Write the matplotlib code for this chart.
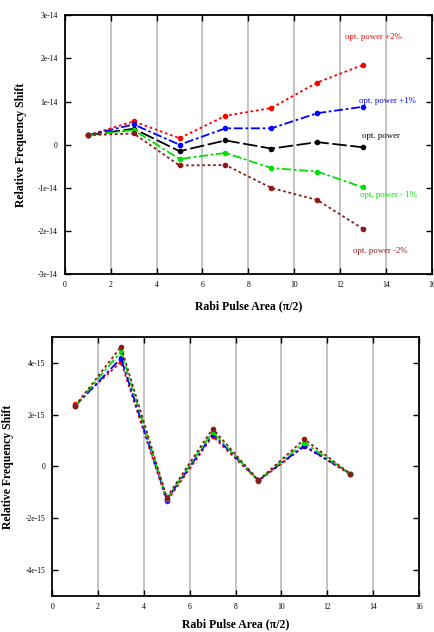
import matplotlib
matplotlib.use("Agg")
import matplotlib.pyplot as plt
import numpy as np

plt.rcParams['font.family'] = ['Liberation Serif', 'DejaVu Serif']

# Rabi pulse area (pi/2 units)
x = [1, 3, 5, 7, 9, 11, 13]

# top panel: relative frequency shift for different optical powers
top_p2 = [0.22e-14, 0.54e-14, 0.15e-14, 0.67e-14, 0.85e-14, 1.44e-14, 1.85e-14]
top_p1 = [0.22e-14, 0.47e-14, 0.00e-14, 0.38e-14, 0.38e-14, 0.73e-14, 0.88e-14]
top_0 = [0.22e-14, 0.37e-14, -0.15e-14, 0.10e-14, -0.09e-14, 0.06e-14, -0.06e-14]
top_m1 = [0.22e-14, 0.34e-14, -0.33e-14, -0.19e-14, -0.54e-14, -0.62e-14, -0.99e-14]
top_m2 = [0.22e-14, 0.26e-14, -0.48e-14, -0.47e-14, -1.00e-14, -1.28e-14, -1.95e-14]

top_labels = ["opt. power +2%", "opt. power +1%", "opt. power",
              "opt. power - 1%", "opt. power -2%"]
label_pos = [(13.43, 2.5e-14), (14.04, 1.02e-14), (13.78, 0.21e-14),
             (14.12, -1.16e-14), (13.73, -2.47e-14)]

# bottom panel
bot_red = [2.39e-15, 4.04e-15, -1.35e-15, 1.17e-15, -0.56e-15, 0.77e-15, -0.30e-15]
bot_blue = [2.33e-15, 4.17e-15, -1.28e-15, 1.25e-15, -0.54e-15, 0.80e-15, -0.28e-15]
bot_green = [2.33e-15, 4.43e-15, -1.24e-15, 1.33e-15, -0.54e-15, 0.92e-15, -0.28e-15]
bot_dred = [2.33e-15, 4.62e-15, -1.20e-15, 1.46e-15, -0.54e-15, 1.05e-15, -0.28e-15]

colors = ['#ff0000', '#0000ff', '#000000', '#00e000', '#8b1a1a']
styles = [(0, (1.5, 1.5)), (0, (5, 1.5, 1.5, 1.5)), (0, (8, 2)),
          (0, (5, 1.5, 1.5, 1.5)), (0, (1.5, 1.5))]

fig = plt.figure(figsize=(4.35, 6.32), dpi=100)


def style_axes(ax, ylim, yticks, ylabels, xpad=8):
    ax.set_xlim(0, 16)
    ax.set_ylim(*ylim)
    ax.set_xticks(range(0, 17, 2))
    ax.set_xticklabels([str(v) for v in range(0, 17, 2)])
    ax.set_yticks(yticks)
    ax.set_yticklabels(ylabels)
    for v in range(2, 16, 2):
        ax.axvline(v, color='#c4c4c4', lw=1.4, zorder=0)
    ax.tick_params(direction='in', top=True, right=True, labelsize=5.5,
                   length=4, width=1, pad=5)
    for s in ax.spines.values():
        s.set_linewidth(1.3)
    ax.set_xlabel("Rabi Pulse Area (\u03c0/2)", fontsize=8.5, fontweight='bold',
                  labelpad=xpad)
    ax.set_ylabel("Relative Frequency Shift", fontsize=8.5, fontweight='bold',
                  labelpad=8)


ax1 = fig.add_axes([0.149, 0.566, 0.844, 0.41])
series = [top_p2, top_p1, top_0, top_m1, top_m2]
for y, c, ls, lab, pos in zip(series, colors, styles, top_labels, label_pos):
    ax1.plot(x, y, color=c, linestyle=ls, lw=1.3, marker='o', markersize=3)
    ax1.text(pos[0], pos[1], lab, color=c, fontsize=6.3, ha='center',
             va='center')
style_axes(ax1, (-3e-14, 3e-14), np.arange(-3, 4) * 1e-14,
           ["-3e-14", "-2e-14", "-1e-14", "0", "1e-14", "2e-14", "3e-14"])

ax2 = fig.add_axes([0.12, 0.057, 0.843, 0.41])
bseries = [bot_red, bot_blue, bot_green, bot_dred]
bcolors = [colors[0], colors[1], colors[3], colors[4]]
bstyles = [styles[0], styles[1], styles[3], styles[4]]
for y, c, ls in zip(bseries, bcolors, bstyles):
    ax2.plot(x, y, color=c, linestyle=ls, lw=1.3, marker='o', markersize=3)
style_axes(ax2, (-5e-15, 5e-15), np.arange(-4, 5, 2) * 1e-15,
           ["-4e-15", "-2e-15", "0", "2e-15", "4e-15"], xpad=5)

fig.savefig("out.png", dpi=100)
